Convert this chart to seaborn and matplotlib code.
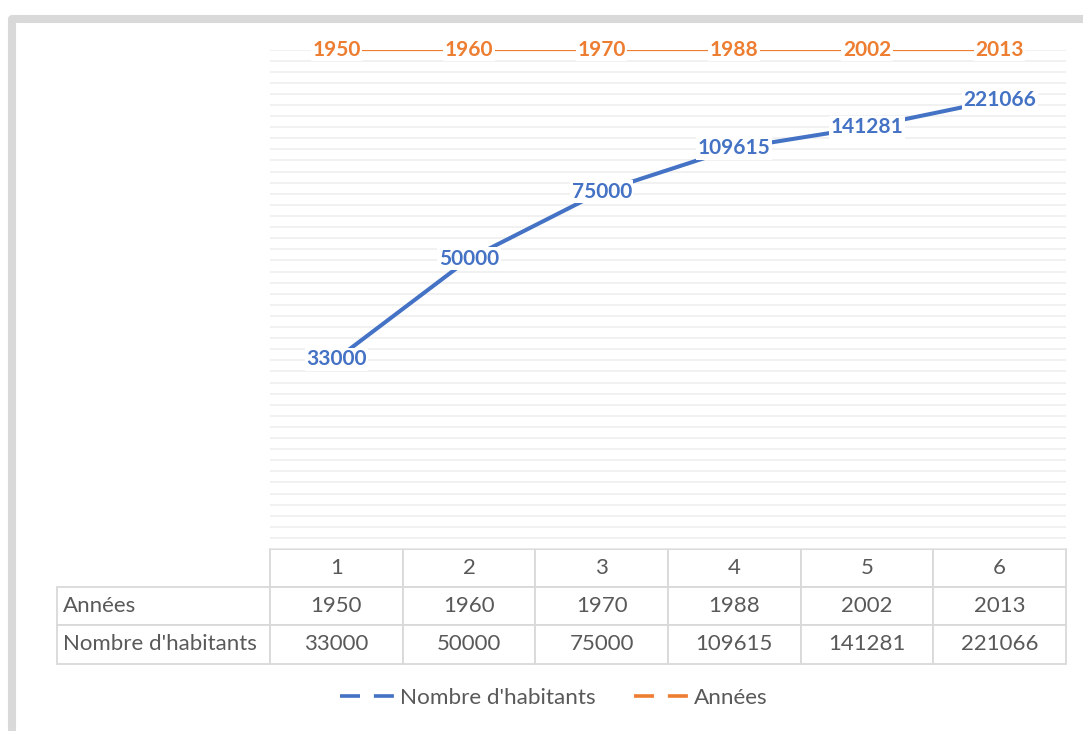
import numpy as np
import seaborn as sns
import matplotlib.pyplot as plt
from matplotlib.lines import Line2D
from matplotlib.patches import Rectangle
from matplotlib.table import Table

# données
rangs = [1, 2, 3, 4, 5, 6]
annees = [1950, 1960, 1970, 1988, 2002, 2013]
habitants = [33000, 50000, 75000, 109615, 141281, 221066]
lignes_table = ["Années", "Nombre d'habitants"]

# graphique en ligne empilée 100 % : part de chaque série
hab = np.array(habitants, dtype=float)
ans = np.array(annees, dtype=float)
part_hab = hab / (hab + ans)
part_ans = (hab + ans) / (hab + ans)

bleu = "#4472C4"
orange = "#ED7D31"
gris_txt = "#595959"
gris_bord = "#D9D9D9"

sns.set_style("white")
plt.rcParams["font.family"] = ["Lato", "DejaVu Sans"]
plt.rcParams["lines.scale_dashes"] = False

fig = plt.figure(figsize=(10.83, 7.31), dpi=100)
ax = fig.add_axes([270 / 1083, 1 - 549 / 731, 796 / 1083, 499.5 / 731])

sns.lineplot(x=rangs, y=part_hab, color=bleu, linewidth=2.9, ax=ax, zorder=3)
sns.lineplot(x=rangs, y=part_ans, color=orange, linewidth=1.6, ax=ax, zorder=3)

ax.set_xlim(0.5, 6.5)
ax.set_ylim(0.91, 1.0)
ax.set_yticks(np.arange(0.91, 1.0001, 0.002))
ax.set_xticks([])
ax.yaxis.grid(True, color="#EEEEEE", linewidth=1.1)
ax.tick_params(left=False, labelleft=False)
for s in ax.spines.values():
    s.set_visible(False)
ax.set_xlabel("")
ax.set_ylabel("")

# étiquettes de données
for x, y, v in zip(rangs, part_hab, habitants):
    ax.text(x, y, str(v), color=bleu, fontsize=15, fontweight="bold",
            ha="center", va="center", zorder=4,
            bbox=dict(facecolor="white", edgecolor="none", pad=1))
for x, y, v in zip(rangs, part_ans, annees):
    ax.text(x, y, str(v), color=orange, fontsize=15, fontweight="bold",
            ha="center", va="center", zorder=4,
            bbox=dict(facecolor="white", edgecolor="none", pad=1))

# table de données sous le graphique (unités : fraction des axes)
larg_lab = 213 / 796
larg_col = 1 / 6
h_lig = 38.2 / 499.5
tab = Table(ax, bbox=[0, -3 * h_lig, 1, 3 * h_lig])
for j, r in enumerate(rangs):
    tab.add_cell(0, j, width=larg_col, height=h_lig, text=str(r), loc="center")
    tab.add_cell(1, j, width=larg_col, height=h_lig, text=str(annees[j]), loc="center")
    tab.add_cell(2, j, width=larg_col, height=h_lig, text=str(habitants[j]), loc="center")
for i, lab in enumerate(lignes_table):
    c = tab.add_cell(i + 1, -1, width=larg_lab, height=h_lig, text=lab, loc="left")
    c.PAD = 0.028
tab.auto_set_font_size(False)
tab.set_fontsize(16)
for cell in tab.get_celld().values():
    cell.set_edgecolor(gris_bord)
    cell.set_linewidth(1.3)
    cell.get_text().set_color(gris_txt)
ax.add_table(tab)

# légende
poignees = [
    Line2D([], [], color=bleu, linewidth=2.6, linestyle=(0, (14.4, 10))),
    Line2D([], [], color=orange, linewidth=2.6, linestyle=(0, (14.4, 10))),
]
leg = fig.legend(poignees, ["Nombre d'habitants", "Années"], loc="center",
                 bbox_to_anchor=(554 / 1083, 1 - 698 / 731), ncol=2,
                 frameon=False, handlelength=2.4, handletextpad=0.27,
                 columnspacing=1.7, fontsize=16.2)
for t in leg.get_texts():
    t.set_color(gris_txt)

# cadre gris de la zone du graphique
fig.patches.append(Rectangle((12 / 1083, -0.5), 2, 0.5 + 1 - 19 / 731,
                             transform=fig.transFigure, facecolor="none",
                             edgecolor=gris_bord, linewidth=5.8,
                             joinstyle="round"))

fig.savefig("out.png", dpi=100)
